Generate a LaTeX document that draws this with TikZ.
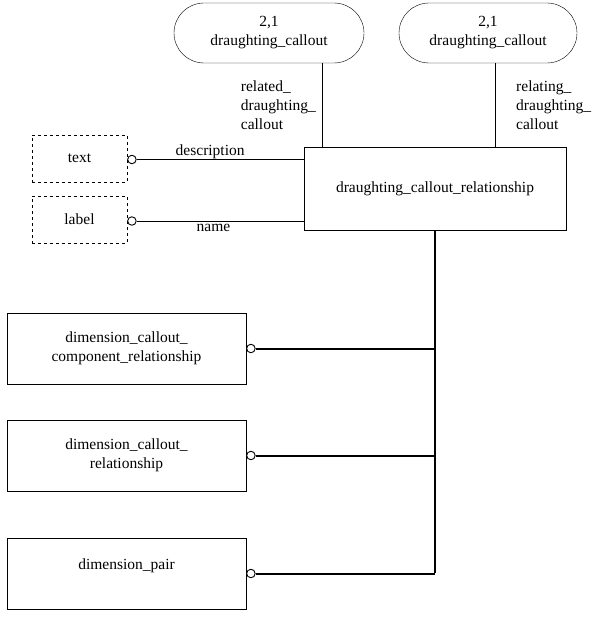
\documentclass[tikz,border=0pt]{standalone}
\usepackage{fontspec}
\setmainfont{Liberation Serif}
\usetikzlibrary{
arrows.meta,
positioning,
shapes.misc
}

\begin{document}
\begin{tikzpicture}[
    x=1pt, y=-1pt,
    font=\fontsize{15.5}{19}\selectfont,
    every node/.style={inner sep=0pt},
    ent/.style={draw, rectangle, align=center},
    ref/.style={draw, rounded rectangle, align=center, minimum height=60pt},
    simple/.style={draw, dashed, rectangle, minimum width=95pt, minimum height=47pt},
    sub/.style={ent, minimum width=239pt, minimum height=71pt},
    ring/.style={draw, circle, fill=white, minimum size=8.5pt, line width=0.9pt},
    thickline/.style={line width=2pt}]
  \useasboundingbox (0,0) rectangle (594,623);
  % entities
  \node[ref, minimum width=190pt] (dcleft) at (269,33) {2,1\\draughting\_callout};
  \node[ref, minimum width=178pt] (dcright) at (488,33) {2,1\\draughting\_callout};
  \node[ent, minimum width=262pt, minimum height=83pt] (dcr) at (435,188.5) {draughting\_callout\_relationship};
  \node[simple] (txt) at (79.5,158.5) {text};
  \node[simple] (lbl) at (79.5,219.5) {label};
  % subtypes
  \node[sub] (dccr) at (126.5,348.5) {dimension\_callout\_\\component\_relationship};
  \node[sub] (dcrel) at (126.5,455.5) {dimension\_callout\_\\relationship};
  \node[sub] (dpair) at (126.5,573.5) {dimension\_pair\\\mbox{}};
  % attributes
  \draw ([xshift=53pt]dcleft.south) -- ([xshift=53pt]dcleft.south |- dcr.north)
    node[midway, left=6pt, align=left] {related\_\\draughting\_\\callout};
  \draw ([xshift=7pt]dcright.south) -- ([xshift=7pt]dcright.south |- dcr.north)
    node[midway, right=21pt, align=left] {relating\_\\draughting\_\\callout};
  \node[ring, anchor=west] (txtring) at ([yshift=-1pt]txt.east) {};
  \node[ring, anchor=west] (lblring) at ([yshift=-1.5pt]lbl.east) {};
  \draw (txtring) -- (txtring -| dcr.west)
    node[pos=0.44, above=1pt] {description};
  \draw (lblring) -- (lblring -| dcr.west)
    node[pos=0.46, below=3pt] {name};
  % supertype tree
  \coordinate (trunkend) at (dcr.south |- dpair.east);
  \draw[thickline] (dcr.south) -- ([yshift=1pt]trunkend);
  \foreach \s in {dccr,dcrel,dpair} {
    \node[ring, anchor=west] (\s ring) at (\s.east) {};
    \draw[thickline] (\s ring) -- (\s ring -| dcr.south);
  }
\end{tikzpicture}
\end{document}
